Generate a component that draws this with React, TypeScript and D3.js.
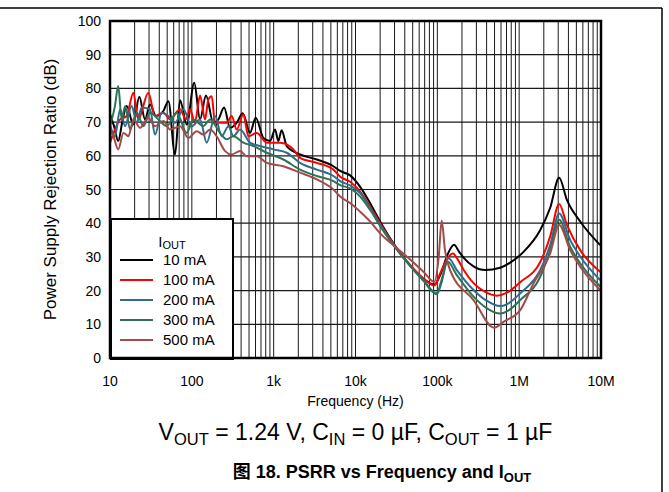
import React from 'react';
import * as d3 from 'd3';

const W = 669;
const H = 492;

// [frequency Hz, PSRR dB]
const iout10mA: [number, number][] = [
  [10, 72.3], [11.2, 68.8], [12.6, 64.4], [14.3, 70.8], [16, 74.8], [19.3, 69.3], [22.8, 77.5], [26.8, 70.8],
  [30.8, 75.2], [36.5, 71.8], [44.9, 73.3], [51.7, 76.2], [62.3, 60.4], [71.8, 76.5], [86.6, 69.3], [107, 81.7],
  [126, 70.8], [149, 77.9], [183, 69.8], [211, 70.8], [248, 74.3], [293, 68.3], [353, 69.8], [419, 72.6],
  [514, 66.8], [604, 71.3], [749, 65.3], [904, 64.4], [1040, 67.8], [1140, 64.4], [1250, 67.6], [1445, 62.9],
  [2100, 60.4], [3360, 58.9], [5370, 56.9], [6490, 55.5], [8590, 54.2], [11400, 50.8], [15100, 45.9],
  [20000, 40.5], [26500, 35.5], [42300, 28.6], [67600, 23.5], [92000, 21.8], [110000, 25], [135000, 31],
  [160000, 33.6], [185000, 31.5], [209000, 29.8], [277000, 27.2], [384000, 26.1], [586000, 26.8],
  [800000, 28.5], [1130000, 31.5], [1810000, 38], [2390000, 44.5], [3080000, 53.5], [3830000, 46.9],
  [5570000, 40.5], [9770000, 33.5],
];
const iout100mA: [number, number][] = [
  [10, 63.9], [11.5, 67.8], [13.3, 70.8], [16, 71.8], [19.3, 78.7], [22.2, 70.8], [29.4, 78.7], [35.5, 71.8],
  [44.9, 72.8], [54.1, 70.8], [71.8, 73.8], [84.8, 70.8], [95.1, 73.8], [109, 69.8], [126, 77.9], [145, 70.8],
  [159, 76.7], [175, 77.7], [192, 69.8], [267, 69.8], [307, 71.8], [353, 67.8], [426, 72.3], [491, 65.8],
  [621, 66.8], [823, 63.9], [1200, 63.9], [1742, 61.9], [2100, 59.4], [3360, 57.9], [5370, 55.9], [6490, 53.8],
  [8590, 52.3], [11400, 49.4], [15100, 44.9], [20000, 40], [26500, 35.3], [42300, 28.8], [67600, 23.6],
  [92000, 21.5], [110000, 25.5], [135000, 29.8], [155000, 31], [175000, 29.5], [209000, 26.2], [277000, 22.2],
  [384000, 19.6], [533000, 18.5], [700000, 19.3], [1030000, 22.5], [1810000, 28.5], [2390000, 36],
  [3080000, 45.7], [3830000, 39.5], [5570000, 32], [9770000, 25.6],
];
const iout200mA: [number, number][] = [
  [10, 69.3], [11.5, 65.8], [13.3, 73.8], [15.3, 68.8], [18.4, 74.8], [21.2, 69.8], [24.4, 74.3], [30.8, 73.8],
  [35.5, 66.3], [42.8, 72.8], [51.7, 71.8], [62.3, 69.8], [78.8, 73.8], [99.6, 68.8], [126, 70.8], [152, 63.9],
  [192, 71.8], [232, 65.8], [280, 68.8], [322, 65.8], [388, 67.8], [514, 63.9], [682, 62.9], [993, 61.9],
  [1445, 60.9], [2100, 57.9], [3360, 55.9], [5370, 54], [6490, 52.5], [8590, 51.2], [11400, 48.9],
  [15100, 44.4], [20000, 39.5], [26500, 35], [42300, 28.6], [67600, 23.1], [98500, 19.2], [113000, 23.3],
  [137000, 29.6], [173000, 26.1], [277000, 20.2], [400000, 17], [586000, 15.4], [750000, 16.3],
  [1030000, 19.2], [1810000, 26.1], [2390000, 33.5], [3080000, 42.9], [4200000, 35], [5570000, 30.1],
  [9770000, 23.1],
];
const iout300mA: [number, number][] = [
  [10, 68.8], [11.5, 74.8], [12.6, 80.7], [13.9, 70.8], [15.3, 74.8], [17.6, 67.8], [21.2, 72.8], [25.6, 68.8],
  [30.8, 72.8], [39, 70.8], [49.3, 68.8], [65.3, 72.8], [86.6, 66.8], [104, 70.8], [138, 68.8], [167, 70.8],
  [221, 66.8], [267, 64.9], [322, 65.8], [426, 63.9], [565, 62.9], [823, 60.9], [1315, 58.9], [2100, 55.9],
  [3360, 54], [5370, 52.5], [6490, 51.3], [8590, 50.3], [11400, 47.9], [15100, 43.9], [20000, 39.2],
  [26500, 34.8], [42300, 28.5], [67600, 22.9], [98500, 18.9], [113000, 22.6], [133000, 28.6], [173000, 24.6],
  [277000, 18.2], [400000, 14.8], [586000, 13.2], [750000, 14.2], [1030000, 17.2], [1810000, 24.1],
  [2390000, 32], [3080000, 41], [4200000, 33], [5570000, 28.1], [9770000, 21.2],
];
const iout500mA: [number, number][] = [
  [10, 67.8], [11, 65.8], [12.6, 61.9], [14.6, 66.8], [16.8, 65.8], [19.3, 70.8], [23.3, 68.3], [29.4, 71.3],
  [35.5, 68.8], [44.9, 70.3], [54.1, 67.8], [71.8, 68.8], [90.7, 65.3], [114.7, 67.3], [138, 66.3], [167, 67.8],
  [201, 65.8], [255, 61.4], [307, 60.4], [388, 61.4], [469, 59.9], [621, 59.9], [823, 57.9], [1315, 56.9],
  [2100, 55], [3360, 53], [5370, 50], [6490, 47.9], [8590, 46], [11400, 43.4], [15100, 40.5], [20000, 37],
  [30500, 33], [42300, 30.1], [67600, 25.6], [92000, 22.6], [104000, 30], [113000, 40.7], [124000, 32],
  [143000, 26.1], [277000, 17.2], [494000, 9.0], [650000, 10.8], [1030000, 14.2], [1500000, 22.2],
  [2390000, 31], [3080000, 39.5], [4200000, 32], [5570000, 27.1], [9770000, 20.2],
];

const seriesData = [iout10mA, iout100mA, iout200mA, iout300mA, iout500mA];
const seriesNames = ['10 mA', '100 mA', '200 mA', '300 mA', '500 mA'];
const seriesColors = ['#000000', '#ff0000', '#2f6d8f', '#2e7356', '#a34a4a'];

const yTicks = [0, 10, 20, 30, 40, 50, 60, 70, 80, 90, 100];
const xTickValues = [10, 100, 1e3, 1e4, 1e5, 1e6, 1e7];
const xTickLabels = ['10', '100', '1k', '10k', '100k', '1M', '10M'];

const FONT = '"Liberation Sans", Arial, Helvetica, sans-serif';

export default function App() {
  const left = 110, right = 601, top = 21, bottom = 358;
  const x = d3.scaleLog().domain([10, 1e7]).range([left, right]);
  const y = d3.scaleLinear().domain([0, 100]).range([bottom, top]);
  const line = d3
    .line<[number, number]>()
    .x((d) => x(d[0]))
    .y((d) => y(d[1]))
    .curve(d3.curveMonotoneX);

  const minor: number[] = [];
  for (let e = 1; e < 7; e++) {
    for (let k = 1; k <= 9; k++) {
      const f = k * Math.pow(10, e);
      if (f > 10 && f < 1e7) minor.push(f);
    }
  }
  const cx = (left + right) / 2;

  const legX = 111, legY = 219, legW = 122, legH = 140;

  return (
    <svg
      width={W}
      height={H}
      style={{ position: 'absolute', left: 0, top: 0, background: '#fff' }}
      fontFamily={FONT}
    >
      <rect x={0} y={0} width={W} height={H} fill="#fff" />
      {/* outer frame */}
      <line x1={0} y1={8} x2={662} y2={8} stroke="#000" strokeWidth={1.5} />
      <line x1={662} y1={8} x2={662} y2={H} stroke="#000" strokeWidth={1.5} />

      {/* grid */}
      {minor.map((f, i) => (
        <line key={'v' + i} x1={x(f)} x2={x(f)} y1={top} y2={bottom} stroke="#1a1a1a" strokeWidth={1} />
      ))}
      {yTicks.slice(1, -1).map((t) => (
        <line key={'h' + t} x1={left} x2={right} y1={y(t)} y2={y(t)} stroke="#1a1a1a" strokeWidth={1.2} />
      ))}

      {/* series */}
      <defs>
        <clipPath id="clip">
          <rect x={left} y={top} width={right - left} height={bottom - top} />
        </clipPath>
      </defs>
      <g clipPath="url(#clip)">
        {seriesData.map((s, i) => (
          <path key={i} d={line(s) || ''} fill="none" stroke={seriesColors[i]} strokeWidth={2} strokeLinejoin="round" />
        ))}
      </g>

      {/* legend */}
      <rect x={legX} y={legY} width={legW} height={legH} fill="#fff" stroke="#000" strokeWidth={2} />
      <text x={172} y={247} fontSize={15} textAnchor="middle">
        I<tspan fontSize={11} dy={2}>OUT</tspan>
      </text>
      {seriesNames.map((n, i) => (
        <g key={n}>
          <line x1={120} x2={153} y1={260 + i * 20} y2={260 + i * 20} stroke={seriesColors[i]} strokeWidth={2} />
          <text x={163} y={265 + i * 20} fontSize={15}>
            {n}
          </text>
        </g>
      ))}

      {/* plot border */}
      <rect x={left} y={top} width={right - left} height={bottom - top} fill="none" stroke="#000" strokeWidth={2.5} />

      {/* y ticks */}
      {yTicks.map((t) => (
        <text key={'yt' + t} x={101} y={y(t) + 5} fontSize={14} textAnchor="end">
          {t}
        </text>
      ))}
      {/* x ticks */}
      {xTickValues.map((v, i) => (
        <text key={'xt' + i} x={x(v)} y={386} fontSize={14} textAnchor="middle">
          {xTickLabels[i]}
        </text>
      ))}

      <text x={cx} y={406} fontSize={14} textAnchor="middle">
        Frequency (Hz)
      </text>
      <text
        transform={`translate(56, ${(top + bottom) / 2}) rotate(-90)`}
        fontSize={17}
        textAnchor="middle"
      >
        Power Supply Rejection Ratio (dB)
      </text>

      <text x={cx} y={440} fontSize={23} textAnchor="middle">
        V<tspan fontSize={16.5} dy={5}>OUT</tspan>
        <tspan dy={-5}> = 1.24 V, C</tspan>
        <tspan fontSize={16.5} dy={5}>IN</tspan>
        <tspan dy={-5}> = 0 µF, C</tspan>
        <tspan fontSize={16.5} dy={5}>OUT</tspan>
        <tspan dy={-5}> = 1 µF</tspan>
      </text>

      <text x={382} y={478} fontSize={18} fontWeight="bold" textAnchor="middle">
        <tspan fontFamily='"Noto Sans CJK SC", sans-serif'>图</tspan>
        <tspan> 18. PSRR vs Frequency and I</tspan>
        <tspan fontSize={13} dy={4}>OUT</tspan>
      </text>
    </svg>
  );
}
